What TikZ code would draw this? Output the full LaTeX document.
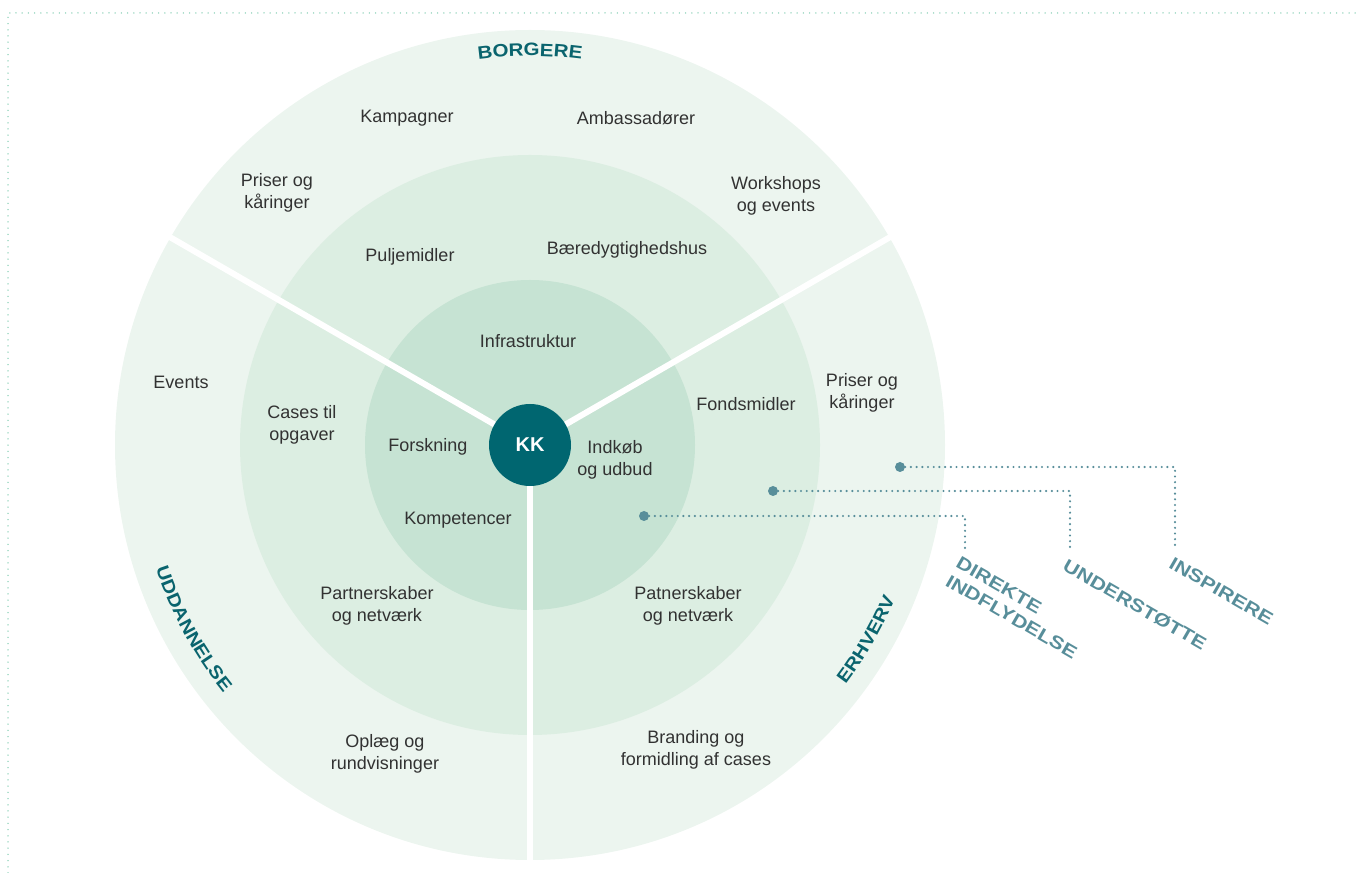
\documentclass[tikz,border=0pt]{standalone}
\usepackage{fontspec}
\setmainfont{Liberation Sans}
\newfontfamily\labfont{Liberation Sans}[FakeStretch=1.14]
\newfontfamily\sidefont{Liberation Sans}[FakeStretch=1.2]
\usetikzlibrary{decorations.text}
\definecolor{ringA}{RGB}{236,245,239}
\definecolor{ringB}{RGB}{220,238,226}
\definecolor{ringC}{RGB}{198,227,211}
\definecolor{kkcol}{RGB}{0,102,112}
\definecolor{labcol}{RGB}{10,100,110}
\definecolor{concol}{RGB}{88,142,154}
\definecolor{txtcol}{RGB}{50,50,50}
\definecolor{bordcol}{RGB}{130,205,178}
\begin{document}
\begin{tikzpicture}[x=1pt,y=1pt,
  txt/.style={font=\fontsize{18}{22}\selectfont, text=txtcol, align=center, inner sep=0pt},
  sep/.style={draw=white, line width=6pt},
  dotline/.style={draw=concol, line width=2.4pt, line cap=round, dash pattern=on 0pt off 5.7pt},
  bord/.style={draw=bordcol, line width=1.5pt, line cap=round, dash pattern=on 0pt off 6.2pt},
  pin/.style={circle, fill=concol, inner sep=0pt, minimum size=10pt},
  sidelab/.style={font=\sidefont\bfseries\fontsize{18}{21}\selectfont, text=concol, align=left, inner sep=0pt, rotate=-30, anchor=north west}
]
\useasboundingbox (0,0) rectangle (1361,873);
% border
\coordinate (b1) at (8,0);
\coordinate (b2) at (8,860);
\coordinate (b3) at (1361,860);
\draw[bord] (b1) -- (b2) -- (b3);
% rings
\coordinate (C) at (530,428);
\fill[ringA] (C) circle[radius=415];
\fill[ringB] (C) circle[radius=290];
\fill[ringC] (C) circle[radius=165];
\draw[sep] (C) -- ++(150:416);
\draw[sep] (C) -- ++(30:416);
\draw[sep] (C) -- ++(270:416);
\node[circle, fill=kkcol, minimum size=82pt, inner sep=0pt, text=white, font=\bfseries\fontsize{20}{24}\selectfont] (kk) at (C) {KK};
% curved labels
\path[shift={(530,428)}, decorate, decoration={text along path, text align=center,
  text color=labcol, text={|\labfont\bfseries\fontsize{18}{20}\selectfont|BORGERE}}]
  (110:389) arc[start angle=110, end angle=70, radius=389];
\path[shift={(530,428)}, decorate, decoration={text along path, text align=center,
  text color=labcol, text={|\labfont\bfseries\fontsize{18}{20}\selectfont|UDDANNELSE}}]
  (188.6:394) arc[start angle=188.6, end angle=228.6, radius=394];
\path[shift={(530,428)}, decorate, decoration={text along path, text align=center,
  text color=labcol, text={|\labfont\bfseries\fontsize{18}{20}\selectfont|ERHVERV}}]
  (312:396) arc[start angle=312, end angle=348, radius=396];
% texts
\node[txt] (t1) at (407,755) {Kampagner};
\node[txt] (t2) at (636,755) {Ambassadører};
\node[txt] (t3) at (277,680) {Priser og\\kåringer};
\node[txt] (t4) at (776,677) {Workshops\\og events};
\node[txt] (t5) at (410,616) {Puljemidler};
\node[txt] (t6) at (627,623) {Bæredygtighedshus};
\node[txt] (t7) at (528,532) {Infrastruktur};
\node[txt] (t8) at (181,491) {Events};
\node[txt] (t9) at (302,448) {Cases til\\opgaver};
\node[txt] (t10) at (428,426) {Forskning};
\node[txt] (t11) at (615,413) {Indkøb\\og udbud};
\node[txt] (t12) at (746,469) {Fondsmidler};
\node[txt] (t13) at (862,480) {Priser og\\kåringer};
\node[txt] (t14) at (458,353) {Kompetencer};
\node[txt] (t15) at (377,267) {Partnerskaber\\og netværk};
\node[txt] (t16) at (688,267) {Patnerskaber\\og netværk};
\node[txt] (t17) at (385,119) {Oplæg og\\rundvisninger};
\node[txt] (t18) at (696,123) {Branding og\\formidling af cases};
% connectors
\node[pin] (d1) at (900,406) {};
\node[pin] (d2) at (773,382) {};
\node[pin] (d3) at (644,357) {};
\coordinate (c1) at (1175,406);
\coordinate (c2) at (1070,382);
\coordinate (c3) at (965,357);
\coordinate (e1) at (1175,325);
\coordinate (e2) at (1070,325);
\coordinate (e3) at (965,325);
\draw[dotline] (d1.east) -- (c1) -- (e1);
\draw[dotline] (d2.east) -- (c2) -- (e2);
\draw[dotline] (d3.east) -- (c3) -- (e3);
\node[sidelab] (l3) at (961,317) {DIREKTE\\INDFLYDELSE};
\node[sidelab] (l2) at (1068,315) {UNDERSTØTTE};
\node[sidelab] (l1) at (1174,317) {INSPIRERE};
\end{tikzpicture}
\end{document}
